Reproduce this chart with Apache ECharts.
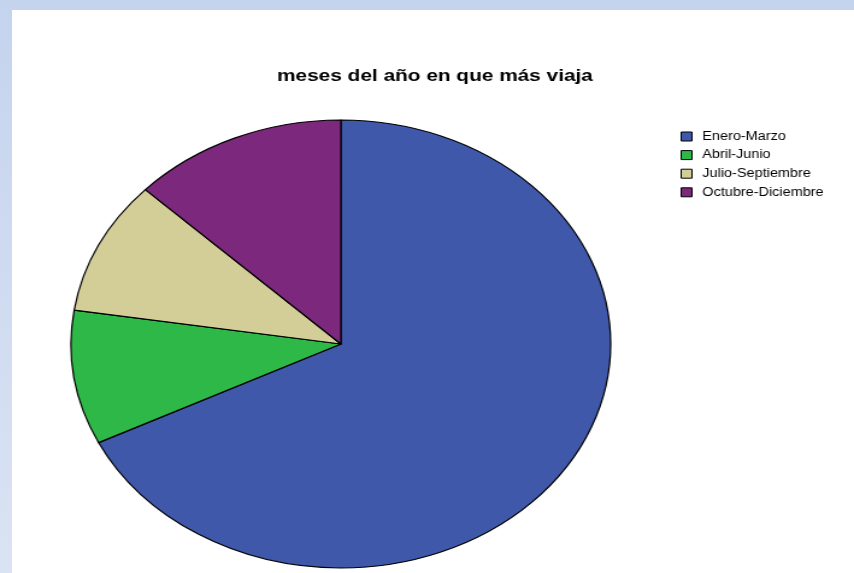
<!DOCTYPE html>
<html>
<head>
<meta charset="utf-8">
<script src="https://cdn.jsdelivr.net/npm/echarts@6/dist/echarts.min.js"></script>
<style>
  html, body { margin: 0; padding: 0; }
  #frame {
    position: relative; width: 854px; height: 573px; overflow: hidden;
    background: linear-gradient(to bottom, #c4d3ee, #dae3f3);
  }
  #paper { position: absolute; left: 12px; top: 10px; right: 0; bottom: 0; background: #ffffff; }
  #chart {
    position: absolute; left: 0; top: 0; width: 709px; height: 573px;
    transform: scaleX(1.2045); transform-origin: 0 0;
  }
</style>
</head>
<body>
<div id="frame">
  <div id="paper"></div>
  <div id="chart"></div>
</div>
<script>
// Travel frequency by quarter of the year
const chartTitle = 'meses del año en que más viaja';
const categories = ['Enero-Marzo', 'Abril-Junio', 'Julio-Septiembre', 'Octubre-Diciembre'];
const counts = [21, 3, 3, 4];
const sliceColors = ['#3f58aa', '#2eb848', '#d3cd97', '#7c287d'];

const chart = echarts.init(document.getElementById('chart'), null, { renderer: 'canvas' });

chart.setOption({
  animation: false,
  backgroundColor: 'transparent',
  color: sliceColors,
  title: {
    text: chartTitle,
    left: 230,
    top: 67.5,
    padding: 0,
    textStyle: {
      fontFamily: 'Liberation Sans, Arial, sans-serif',
      fontSize: 17.3,
      fontWeight: 'bold',
      color: '#000'
    }
  },
  legend: {
    orient: 'vertical',
    left: 565,
    top: 130.5,
    padding: 0,
    itemWidth: 9,
    itemHeight: 9,
    itemGap: 6.6,
    icon: 'rect',
    selectedMode: false,
    itemStyle: { borderColor: '#000', borderWidth: 1 },
    textStyle: {
      fontFamily: 'Liberation Sans, Arial, sans-serif',
      fontSize: 12,
      color: '#000',
      padding: [0, 0, 0, 3.6]
    },
    data: categories
  },
  series: [{
    type: 'pie',
    center: [283, 344],
    radius: 224,
    startAngle: 90,
    clockwise: true,
    silent: true,
    label: { show: false },
    labelLine: { show: false },
    emphasis: { disabled: true },
    itemStyle: { borderColor: '#000', borderWidth: 1.2 },
    data: categories.map((name, i) => ({ name: name, value: counts[i] }))
  }]
});
</script>
</body>
</html>
